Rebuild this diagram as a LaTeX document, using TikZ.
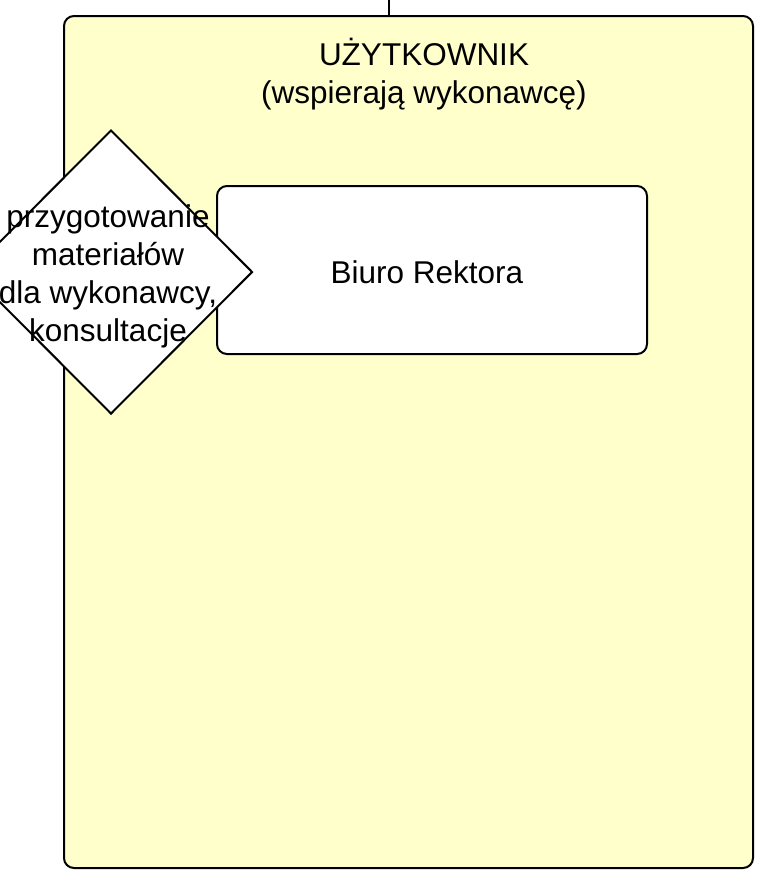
\documentclass[tikz,border=0pt]{standalone}
\usepackage{fontspec}
\setmainfont{Liberation Sans}
\usetikzlibrary{shapes.geometric}
\definecolor{paleyellow}{RGB}{255,255,204}
\tikzset{
  px/.style={x=1pt,y=-1pt},
  frame/.style={draw=black,line width=2pt,rounded corners=10pt},
  lbl/.style={font=\fontsize{31.5}{38}\selectfont,align=center,inner sep=0pt},
}
\begin{document}
\begin{tikzpicture}[px]
\clip (0,0) rectangle (758,871);
\useasboundingbox (0,0) rectangle (758,871);
\node[frame,fill=paleyellow,minimum width=689pt,minimum height=852pt,anchor=north west] (box) at (63,15) {};
\coordinate (topend) at (389,0);
\draw[line width=2pt] (topend) -- (topend |- box.north);
\node[lbl,anchor=base] (title) at (424,103) {UŻYTKOWNIK\\(wspierają wykonawcę)};
\node[frame,fill=white,minimum width=430pt,minimum height=168pt,anchor=north west] (inner) at (216,185) {};
\node[lbl,anchor=base] (biuro) at (427,283) {Biuro Rektora};
\node[draw=black,line width=2pt,fill=white,shape=diamond,aspect=1,minimum width=283pt,minimum height=284pt,inner sep=0pt] (dia) at (111,272) {};
\node[lbl,anchor=base] (diatext) at (108,341) {przygotowanie\\materiałów\\dla wykonawcy,\\konsultacje};
\end{tikzpicture}
\end{document}
